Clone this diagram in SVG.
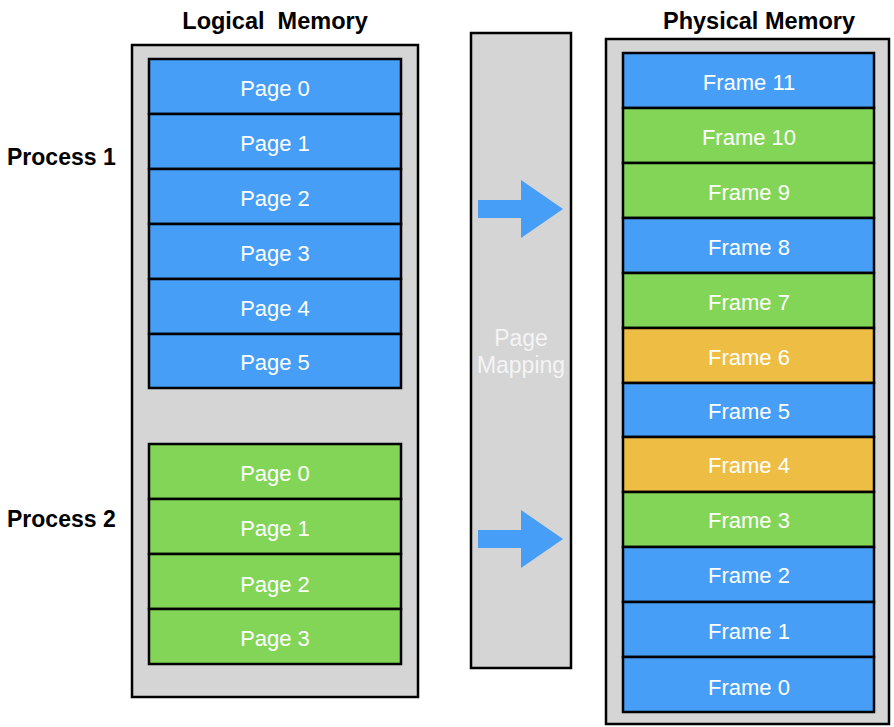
<svg xmlns="http://www.w3.org/2000/svg" width="894" height="727" viewBox="0 0 894 727">
<style>
.box{fill:#d5d5d5;stroke:#000;stroke-width:2.5}
.blk{stroke:#000;stroke-width:2.5}
.b{fill:#469ef6}
.g{fill:#83d557}
.o{fill:#eebd44}
.lbl{font-family:"Liberation Sans",Arial,sans-serif;font-size:22px;fill:#fff;text-anchor:middle;dominant-baseline:central}
.map{font-size:23px;fill:#f4f4f4}
.title{font-family:"Liberation Sans",Arial,sans-serif;font-size:23.5px;font-weight:bold;fill:#000;text-anchor:middle}
.proc{font-family:"Liberation Sans",Arial,sans-serif;font-size:23px;font-weight:bold;fill:#000}
.arrow{fill:#469ef6}
</style>
<rect width="894" height="727" fill="#fff"/>
<text class="title" x="275" y="29" xml:space="preserve">Logical  Memory</text>
<text class="title" x="759" y="29">Physical Memory</text>
<text class="proc" x="7" y="165">Process 1</text>
<text class="proc" x="7" y="527">Process 2</text>

<g id="logical-memory">
<rect class="box" x="132" y="45" width="286" height="652"/>
</g>
<g id="process1">
<g id="p1-page0"><rect class="blk b" x="149" y="59" width="252" height="55"/><text class="lbl" x="275" y="88">Page 0</text></g>
<g id="p1-page1"><rect class="blk b" x="149" y="114" width="252" height="55"/><text class="lbl" x="275" y="143">Page 1</text></g>
<g id="p1-page2"><rect class="blk b" x="149" y="169" width="252" height="55"/><text class="lbl" x="275" y="198">Page 2</text></g>
<g id="p1-page3"><rect class="blk b" x="149" y="224" width="252" height="55"/><text class="lbl" x="275" y="253">Page 3</text></g>
<g id="p1-page4"><rect class="blk b" x="149" y="279" width="252" height="55"/><text class="lbl" x="275" y="308">Page 4</text></g>
<g id="p1-page5"><rect class="blk b" x="149" y="334" width="252" height="54"/><text class="lbl" x="275" y="362">Page 5</text></g>
</g>
<g id="process2">
<g id="p2-page0"><rect class="blk g" x="149" y="444" width="252" height="55"/><text class="lbl" x="275" y="473">Page 0</text></g>
<g id="p2-page1"><rect class="blk g" x="149" y="499" width="252" height="55"/><text class="lbl" x="275" y="528">Page 1</text></g>
<g id="p2-page2"><rect class="blk g" x="149" y="554" width="252" height="55"/><text class="lbl" x="275" y="584">Page 2</text></g>
<g id="p2-page3"><rect class="blk g" x="149" y="609" width="252" height="55"/><text class="lbl" x="275" y="638">Page 3</text></g>
</g>

<g id="page-mapping">
<rect class="box" x="471" y="33" width="100" height="635"/>
<text class="lbl map" x="521" y="338">Page</text>
<text class="lbl map" x="521" y="365">Mapping</text>
</g>
<g id="connectors">
<polygon class="arrow" points="478,200 521,200 521,180 563,209 521,238 521,218 478,218"/>
<polygon class="arrow" points="478,530 521,530 521,510 563,539 521,568 521,548 478,548"/>
</g>

<g id="physical-memory">
<rect class="box" x="606" y="39" width="283" height="685"/>
<g id="frame11"><rect class="blk b" x="623" y="53" width="251" height="55"/><text class="lbl" x="749" y="82">Frame 11</text></g>
<g id="frame10"><rect class="blk g" x="623" y="108" width="251" height="55"/><text class="lbl" x="749" y="137">Frame 10</text></g>
<g id="frame9"><rect class="blk g" x="623" y="163" width="251" height="55"/><text class="lbl" x="749" y="192">Frame 9</text></g>
<g id="frame8"><rect class="blk b" x="623" y="218" width="251" height="55"/><text class="lbl" x="749" y="247">Frame 8</text></g>
<g id="frame7"><rect class="blk g" x="623" y="273" width="251" height="55"/><text class="lbl" x="749" y="302">Frame 7</text></g>
<g id="frame6"><rect class="blk o" x="623" y="328" width="251" height="55"/><text class="lbl" x="749" y="357">Frame 6</text></g>
<g id="frame5"><rect class="blk b" x="623" y="383" width="251" height="54"/><text class="lbl" x="749" y="411">Frame 5</text></g>
<g id="frame4"><rect class="blk o" x="623" y="437" width="251" height="55"/><text class="lbl" x="749" y="465">Frame 4</text></g>
<g id="frame3"><rect class="blk g" x="623" y="492" width="251" height="55"/><text class="lbl" x="749" y="520">Frame 3</text></g>
<g id="frame2"><rect class="blk b" x="623" y="547" width="251" height="55"/><text class="lbl" x="749" y="575">Frame 2</text></g>
<g id="frame1"><rect class="blk b" x="623" y="602" width="251" height="55"/><text class="lbl" x="749" y="631">Frame 1</text></g>
<g id="frame0"><rect class="blk b" x="623" y="657" width="251" height="55"/><text class="lbl" x="749" y="687">Frame 0</text></g>
</g>
</svg>
